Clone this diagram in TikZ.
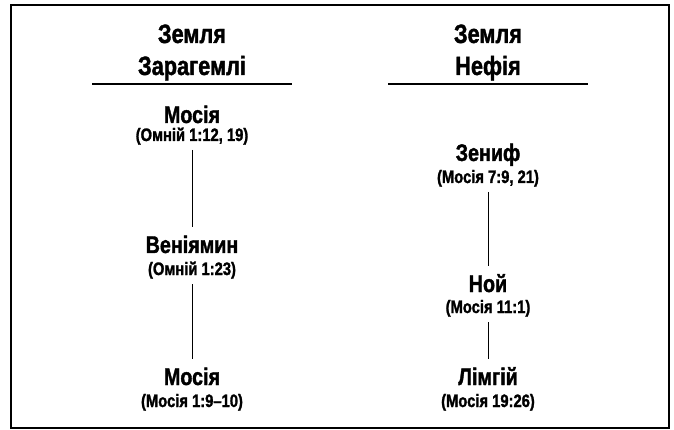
\documentclass[tikz,border=0pt]{standalone}
\usepackage{fontspec}
\newfontfamily\condfont[FakeStretch=0.82, BoldFeatures={FakeBold=1.5}]{Liberation Sans}
\begin{document}
\begin{tikzpicture}[x=1pt,y=-1pt,
  headtext/.style={font=\condfont\bfseries\fontsize{26.5}{27}\selectfont, inner sep=0pt, anchor=base},
  personname/.style={font=\condfont\bfseries\fontsize{24}{24}\selectfont, inner sep=0pt, anchor=base, text height=16pt, text depth=0pt, outer ysep=10pt},
  reftext/.style={font=\condfont\bfseries\fontsize{18}{18}\selectfont, inner sep=0pt, anchor=base, text height=13pt, text depth=3pt, outer ysep=6pt},
  ruleline/.style={line width=2.5pt},
  conn/.style={line width=1pt}]
\useasboundingbox (0,0) rectangle (674,430);
\draw[line width=2pt] (11,5) rectangle (669,428);
% headings
\node[headtext] (h1a) at (192,43) {Земля};
\node[headtext] (h1b) at (192,75) {Зарагемлі};
\node[headtext] (h2a) at (488,43) {Земля};
\node[headtext] (h2b) at (488,75) {Нефія};
\coordinate (r1l) at (92,84); \coordinate (r1r) at (292,84);
\coordinate (r2l) at (388,84); \coordinate (r2r) at (588,84);
\draw[ruleline] (r1l) -- (r1r);
\draw[ruleline] (r2l) -- (r2r);
% left column
\node[personname] (m1) at (192,123) {Мосія};
\node[reftext] (m1r) at (192,141) {(Омній 1:12, 19)};
\node[personname] (b) at (192,253) {Веніямин};
\node[reftext] (br) at (192,275) {(Омній 1:23)};
\node[personname] (m2) at (192,385) {Мосія};
\node[reftext] (m2r) at (192,407) {(Мосія 1:9–10)};
\draw[conn] (m1r.south) -- (b.north);
\draw[conn] (br.south) -- (m2.north);
% right column
\node[personname] (z) at (488,161) {Зениф};
\node[reftext] (zr) at (488,183) {(Мосія 7:9, 21)};
\node[personname] (n) at (488,292) {Ной};
\node[reftext] (nr) at (488,313) {(Мосія 11:1)};
\node[personname] (l) at (488,385) {Лімгій};
\node[reftext] (lr) at (488,407) {(Мосія 19:26)};
\draw[conn] (zr.south) -- (n.north);
\draw[conn] (nr.south) -- (l.north);
\end{tikzpicture}
\end{document}
